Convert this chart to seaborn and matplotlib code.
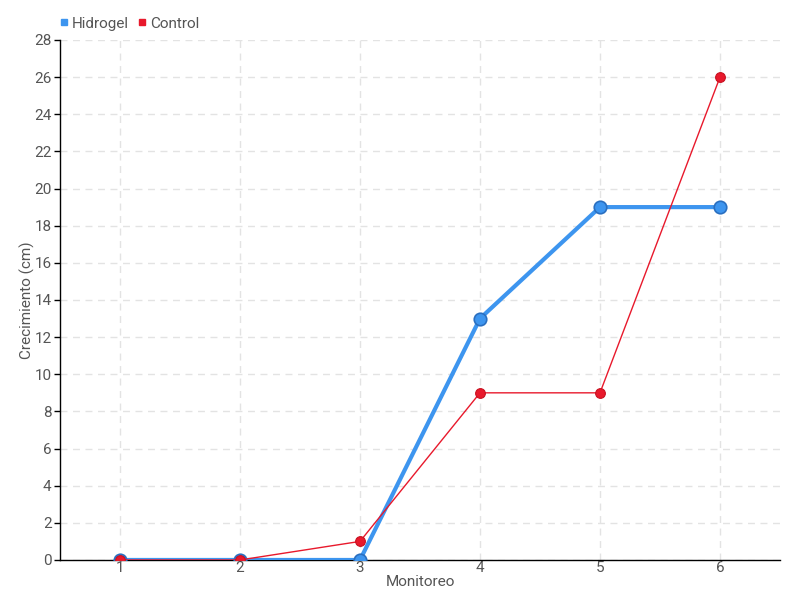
import matplotlib
matplotlib.use("Agg")
import matplotlib.pyplot as plt
import seaborn as sns
import pandas as pd
from matplotlib.lines import Line2D

monitoreo = [1, 2, 3, 4, 5, 6]
hidrogel = [0, 0, 0, 13, 19, 19]
control = [0, 0, 1, 9, 9, 26]
y_ticks = list(range(0, 29, 2))

sns.set_theme(style="white")
plt.rcParams['font.family'] = ['Roboto', 'DejaVu Sans']

df = pd.DataFrame({
    "Monitoreo": monitoreo * 2,
    "Crecimiento": hidrogel + control,
    "Serie": ["Hidrogel"] * 6 + ["Control"] * 6,
})

fig = plt.figure(figsize=(8, 6), dpi=100)
ax = fig.add_axes([0.075, 0.0667, 0.9, 0.8667])

blue = "#3d95ef"
red = "#e8192c"

sns.lineplot(data=df[df.Serie == "Hidrogel"], x="Monitoreo", y="Crecimiento",
             ax=ax, color=blue, linewidth=3, marker="o", markersize=9,
             markeredgecolor="#2a6fc0", markeredgewidth=1.2, zorder=3, legend=False)
sns.lineplot(data=df[df.Serie == "Control"], x="Monitoreo", y="Crecimiento",
             ax=ax, color=red, linewidth=1, marker="o", markersize=7,
             markeredgecolor="#c8101f", markeredgewidth=0.8, zorder=4, legend=False)

ax.set_xlim(0.5, 6.5)
ax.set_ylim(0, 28)
ax.set_xticks(monitoreo)
ax.set_yticks(y_ticks)
ax.grid(True, color="#e3e3e3", linestyle=(0, (5, 4)), linewidth=1)
ax.set_axisbelow(True)
for s in ["top", "right"]:
    ax.spines[s].set_visible(False)
for s in ["left", "bottom"]:
    ax.spines[s].set_color("black")
    ax.spines[s].set_linewidth(1)
ax.tick_params(axis="y", left=True, length=4, width=1, color="black", labelsize=11, labelcolor="#555555", pad=2)
ax.tick_params(axis="x", bottom=False, length=0, labelsize=11, labelcolor="#555555", pad=1)
ax.set_xlabel("Monitoreo", fontsize=11, color="#555555", labelpad=0)
ax.set_ylabel("Crecimiento (cm)", fontsize=11, color="#555555")
ax.yaxis.set_label_coords(-0.035, 0.5)

handles = [Line2D([], [], marker="s", linestyle="", color=blue, markersize=5),
           Line2D([], [], marker="s", linestyle="", color=red, markersize=5)]
leg = fig.legend(handles, ["Hidrogel", "Control"], loc="upper left",
                 bbox_to_anchor=(0.055, 0.995), ncol=2, frameon=False,
                 fontsize=11, handletextpad=0.1, columnspacing=0.5, handlelength=0.8)
for t in leg.get_texts():
    t.set_color("#555555")

fig.savefig("out.png", dpi=100)
